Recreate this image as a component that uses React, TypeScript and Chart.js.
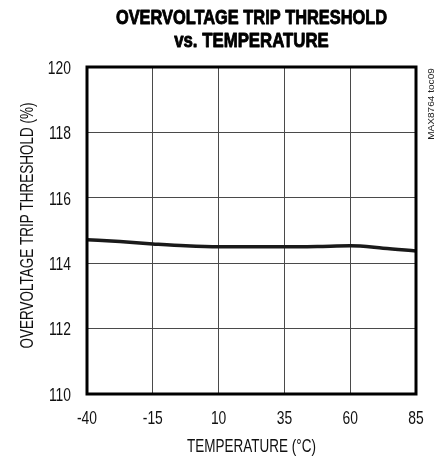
import React, { useEffect, useRef } from "react";
import { Chart, registerables } from "chart.js";

Chart.register(...registerables);

const temperatures = [-40, -27.5, -15, -2.5, 10, 22.5, 35, 47.5, 60, 72.5, 85];
const thresholds = [114.72, 114.66, 114.59, 114.53, 114.5, 114.5, 114.5, 114.51, 114.53, 114.46, 114.37];
const xTicks = [-40, -15, 10, 35, 60, 85];
const yTicks = [110, 112, 114, 116, 118, 120];
const titleLines = ["OVERVOLTAGE TRIP THRESHOLD", "vs. TEMPERATURE"];
const xTitle = "TEMPERATURE (°C)";
const yTitle = "OVERVOLTAGE TRIP THRESHOLD (%)";
const sideNote = "MAX8764 toc09";

const FONT = "'Liberation Sans', Arial, sans-serif";

function drawText(
  ctx: CanvasRenderingContext2D,
  text: string,
  x: number,
  y: number,
  font: string,
  sx: number,
  align: CanvasTextAlign,
  rot = 0,
  stroke = 0,
  color = "#000"
) {
  ctx.save();
  ctx.translate(x, y);
  if (rot) ctx.rotate(rot);
  ctx.scale(sx, 1);
  ctx.font = font;
  ctx.textAlign = align;
  ctx.textBaseline = "alphabetic";
  ctx.fillStyle = color;
  ctx.fillText(text, 0, 0);
  if (stroke) {
    ctx.strokeStyle = color;
    ctx.lineWidth = stroke;
    ctx.lineJoin = "round";
    ctx.strokeText(text, 0, 0);
  }
  ctx.restore();
}

export default function App() {
  const ref = useRef<HTMLCanvasElement | null>(null);
  useEffect(() => {
    if (!ref.current) return;
    const decor = {
      id: "decor",
      afterDraw(chart: any) {
        const { ctx, chartArea, scales } = chart;
        const { left, right, top, bottom } = chartArea;
        ctx.save();
        ctx.strokeStyle = "#000";
        ctx.lineWidth = 3;
        ctx.strokeRect(left, top, right - left, bottom - top);
        const cx = (left + right) / 2;
        drawText(ctx, titleLines[0], cx, 23.5, `bold 21px ${FONT}`, 0.78, "center", 0, 0.9);
        drawText(ctx, titleLines[1], cx, 47.3, `bold 21px ${FONT}`, 0.8, "center", 0, 0.9);
        const tickFont = `18.5px ${FONT}`;
        yTicks.forEach((v) => {
          const py = scales.y.getPixelForValue(v);
          drawText(ctx, String(v), 71, py + 6.8, tickFont, 0.75, "right", 0, 0, "#111");
        });
        xTicks.forEach((v) => {
          const px = scales.x.getPixelForValue(v);
          drawText(ctx, String(v), px, 423.5, tickFont, 0.75, "center", 0, 0, "#111");
        });
        drawText(ctx, xTitle, cx, 452, `19px ${FONT}`, 0.71, "center", 0, 0, "#111");
        drawText(ctx, yTitle, 33, 225.5, `19px ${FONT}`, 0.71, "center", -Math.PI / 2, 0, "#111");
        drawText(ctx, sideNote, 433.5, 104, `9.5px ${FONT}`, 1.06, "center", -Math.PI / 2, 0, "#222");
        ctx.restore();
      },
    };
    const chart = new Chart(ref.current, {
      type: "line",
      data: {
        datasets: [
          {
            data: temperatures.map((t, i) => ({ x: t, y: thresholds[i] })),
            borderColor: "#1a1a1a",
            borderWidth: 3.5,
            pointRadius: 0,
            cubicInterpolationMode: "monotone",
            fill: false,
          },
        ],
      },
      options: {
        responsive: false,
        animation: false,
        layout: { padding: { top: 67, right: 22, left: 0, bottom: 0 } },
        plugins: { legend: { display: false }, tooltip: { enabled: false }, title: { display: false } },
        scales: {
          x: {
            type: "linear",
            min: -40,
            max: 85,
            afterBuildTicks: (s: any) => {
              s.ticks = xTicks.map((v) => ({ value: v }));
            },
            afterFit: (s: any) => {
              s.height = 64;
            },
            grid: { color: "#4a4a4a", lineWidth: 1, drawTicks: false },
            border: { display: false },
            ticks: { display: false },
          },
          y: {
            min: 110,
            max: 120,
            afterBuildTicks: (s: any) => {
              s.ticks = yTicks.map((v) => ({ value: v }));
            },
            afterFit: (s: any) => {
              s.width = 87;
            },
            grid: { color: "#4a4a4a", lineWidth: 1, drawTicks: false },
            border: { display: false },
            ticks: { display: false },
          },
        },
      },
      plugins: [decor],
    });
    return () => chart.destroy();
  }, []);
  return (
    <div style={{ position: "fixed", left: 0, top: 0, width: 438, height: 458, background: "#fff" }}>
      <canvas ref={ref} width={438} height={458} />
    </div>
  );
}
